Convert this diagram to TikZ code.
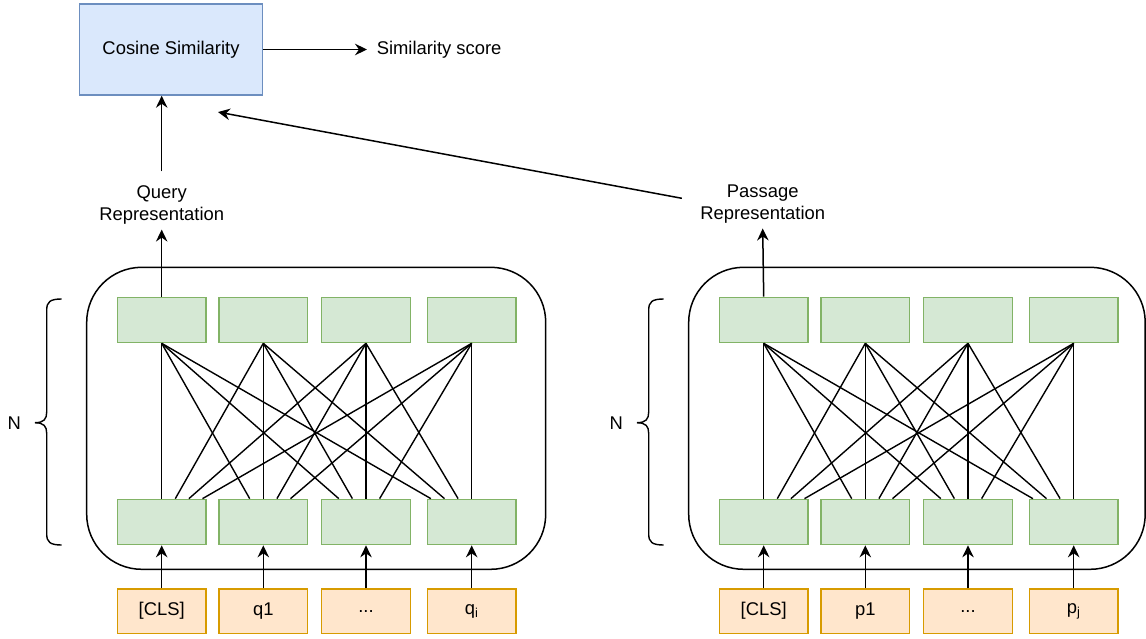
\documentclass[tikz,border=0pt]{standalone}
\usepackage{fontspec}
\setmainfont{Liberation Sans}
\usetikzlibrary{arrows.meta,calc}
\definecolor{blueFill}{HTML}{DAE8FC}
\definecolor{blueLine}{HTML}{6C8EBF}
\definecolor{greenFill}{HTML}{D5E8D4}
\definecolor{greenLine}{HTML}{82B366}
\definecolor{orangeFill}{HTML}{FFE6CC}
\definecolor{orangeLine}{HTML}{D79B00}
\newcommand{\tokdots}{...}
\begin{document}
\begin{tikzpicture}[x=1pt,y=-1pt,line width=1.5pt,
  font=\fontsize{18.4}{22}\selectfont,
  arr/.style={-{Stealth[length=12pt,width=11.5pt,inset=4pt]}},
  cell/.style={draw=greenLine,fill=greenFill,minimum width=88.6pt,minimum height=45.2pt,inner sep=0pt},
  tok/.style={draw=orangeLine,fill=orangeFill,minimum width=88.6pt,minimum height=44.3pt,inner sep=0pt},
  simbox/.style={draw=blueLine,fill=blueFill,minimum width=183.2pt,minimum height=91pt,inner sep=0pt},
  lbl/.style={align=center,inner sep=0pt},
  wire/.style={line width=1.4pt},
  frame/.style={draw,rounded corners=55pt},
  brace/.style={line width=1.4pt}]
\useasboundingbox (0,0) rectangle (1146,639);

% similarity head
\node[simbox] (cos) at (171,49.5) {\raisebox{-1pt}{Cosine Similarity}};
\node[anchor=west,inner sep=0pt] (ss) at (376,49.5) {Similarity score};
\draw[arr] (cos.east) -- ([xshift=-9pt]ss.west);

% representation labels
\node[lbl] (ql) at (161.7,204.5) {Query\\Representation};
\node[lbl] (pl) at (762.7,204.5) {Passage\\Representation};
\draw[arr] ([yshift=13pt]ql.north) -- (ql.north |- cos.south);
\draw[arr] ([xshift=-17.7pt,yshift=6.2pt]pl.west) -- ([xshift=47pt,yshift=-16.3pt]cos.south);

% two encoders: query (Q) and passage (P)
\foreach \s/\dx/\fr/\ta/\tb/\tc/\td in
    {Q/0/545.7/{[CLS]}/q1/\tokdots/q\textsubscript{i},
     P/602/1145.2/{[CLS]}/p1/\tokdots/p\textsubscript{j}} {
  \draw[frame] (86.7+\dx,267.3) rectangle (\fr,569.3);
  \foreach \i/\cx/\tx in {1/161.7/\ta,2/263.3/\tb,3/366/\tc,4/471.7/\td} {
    \node[cell] (\s-t\i) at (\cx+\dx,320) {};
    \node[cell] (\s-b\i) at (\cx+\dx,522) {};
    \node[tok]  (\s-k\i) at (\cx+\dx,611.2) {\tx};
    \draw[arr] (\s-k\i.north) -- (\s-b\i.south);
  }
  % all-to-all attention wiring
  \foreach \i in {1,2,3,4} {
    \foreach \j in {1,2,3,4} {
      \draw[wire] (\s-t\i.south) -- ([xshift={(\i-\j)*13.6pt}]\s-b\j.north);
    }
  }
  % layer repetition brace
  \draw[brace] (61.7+\dx,299) .. controls (50+\dx,299) and (46.7+\dx,302) .. (46.7+\dx,310)
     -- (46.7+\dx,412) .. controls (46.7+\dx,419) and (44+\dx,422.7) .. (35+\dx,422.7);
  \draw[brace] (61.7+\dx,545) .. controls (50+\dx,545) and (46.7+\dx,542) .. (46.7+\dx,534)
     -- (46.7+\dx,433.4) .. controls (46.7+\dx,426.4) and (44+\dx,422.7) .. (35+\dx,422.7);
  \node (\s-n) at (14.2+\dx,422.7) {N};
}

% encoder outputs to their labels
\draw[arr] (Q-t1.north) -- ([yshift=-5pt]ql.south);
\draw[arr] (P-t1.north) -- ([yshift=-4pt]pl.south);
\end{tikzpicture}
\end{document}
